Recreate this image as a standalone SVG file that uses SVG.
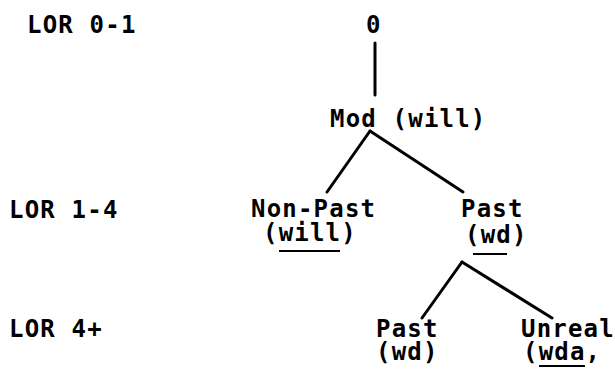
<svg xmlns="http://www.w3.org/2000/svg" width="615" height="372" viewBox="0 0 615 372">
<style>
text{font-family:"DejaVu Sans Mono","Liberation Mono",monospace;font-weight:bold;font-size:24px;letter-spacing:1.2px;fill:#000}
.e{stroke:#000;stroke-width:3;stroke-linecap:round;fill:none}
.u{stroke:#000;stroke-width:2;fill:none}
</style>
<rect width="615" height="372" fill="#fff"/>
<g id="levels">
<text x="27" y="33">LOR 0-1</text>
<text x="9" y="218">LOR 1-4</text>
<text x="9" y="337">LOR 4+</text>
</g>
<g id="connectors">
<line class="e" x1="375" y1="43" x2="375" y2="95"/>
<line class="e" x1="370" y1="131" x2="327" y2="192"/>
<line class="e" x1="370" y1="131" x2="463" y2="192"/>
<line class="e" x1="462" y1="262" x2="422" y2="318"/>
<line class="e" x1="462" y1="262" x2="552" y2="318"/>
</g>
<g id="n0"><text x="366" y="33">0</text></g>
<g id="mod"><text x="330" y="127">Mod (will)</text></g>
<g id="nonpast">
<text x="251" y="217">Non-Past</text>
<text x="263" y="241">(will)</text>
<line class="u" x1="279" y1="251" x2="340" y2="251"/>
</g>
<g id="past1">
<text x="461" y="217">Past</text>
<text x="465" y="243">(wd)</text>
<line class="u" x1="473" y1="254" x2="507" y2="254"/>
</g>
<g id="past2">
<text x="376" y="337">Past</text>
<text x="376" y="360">(wd)</text>
</g>
<g id="unreal">
<text x="521" y="337">Unreal</text>
<text x="523" y="360">(wda,</text>
<line class="u" x1="539" y1="366" x2="585" y2="366"/>
</g>
</svg>
